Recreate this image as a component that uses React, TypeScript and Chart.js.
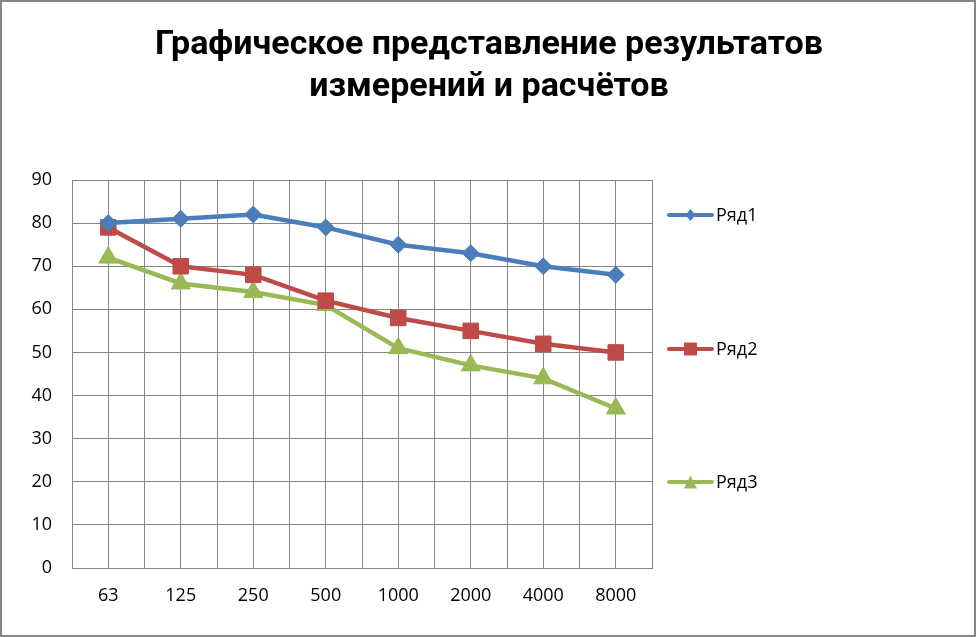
import React, { useEffect, useRef } from 'react';
import { Chart, registerables } from 'chart.js';

Chart.register(...registerables);

const categories = ['63', '125', '250', '500', '1000', '2000', '4000', '8000'];
const seriesNames = ['Ряд1', 'Ряд2', 'Ряд3'];
const series1 = [80, 81, 82, 79, 75, 73, 70, 68];
const series2 = [79, 70, 68, 62, 58, 55, 52, 50];
const series3 = [72, 66, 64, 61, 51, 47, 44, 37];
const titleLines = ['Графическое представление результатов', 'измерений и расчётов'];
const yMin = 0;
const yMax = 90;
const yStep = 10;

const colors = ['#4A7EBB', '#BE4B48', '#98B954'];
const pointStyles = ['rectRot', 'rect', 'triangle'];
const pointRadii = [8.5, 11, 11];
const GRID = '#868686';
const FONT = '"Open Sans", "Noto Sans", sans-serif';
const TITLE_FONT = 'bold 34px Roboto, "Open Sans", sans-serif';

const legendYs = [213, 347, 480];
const titleYs = [43, 85];

function drawMarker(ctx: CanvasRenderingContext2D, style: string, x: number, y: number, s: number) {
  ctx.beginPath();
  if (style === 'rectRot') {
    ctx.moveTo(x, y - s * 1.2);
    ctx.lineTo(x + s, y);
    ctx.lineTo(x, y + s * 1.2);
    ctx.lineTo(x - s, y);
  } else if (style === 'rect') {
    ctx.rect(x - s, y - s, 2 * s, 2 * s);
  } else {
    ctx.moveTo(x, y - s);
    ctx.lineTo(x + s, y + s);
    ctx.lineTo(x - s, y + s);
  }
  ctx.closePath();
  ctx.fill();
}

const titleLegendPlugin = {
  id: 'excelTitleLegend',
  afterDraw(chart: any) {
    const ctx: CanvasRenderingContext2D = chart.ctx;
    ctx.save();
    // title
    ctx.fillStyle = '#000';
    ctx.font = TITLE_FONT;
    ctx.textAlign = 'center';
    ctx.textBaseline = 'middle';
    titleLines.forEach((line, i) => {
      ctx.fillText(line, chart.width / 2 + 1, titleYs[i]);
    });
    // legend
    const x0 = chart.chartArea.right + 17;
    chart.data.datasets.forEach((ds: any, i: number) => {
      const y = legendYs[i];
      ctx.strokeStyle = colors[i];
      ctx.fillStyle = colors[i];
      ctx.lineWidth = 4;
      ctx.lineCap = 'round';
      ctx.beginPath();
      ctx.moveTo(x0, y);
      ctx.lineTo(x0 + 43, y);
      ctx.stroke();
      drawMarker(ctx, pointStyles[i], x0 + 21.5, y, i === 0 ? 5 : 6.5);
      ctx.fillStyle = '#000';
      ctx.font = '18px ' + FONT;
      ctx.textBaseline = 'middle';
      ctx.textAlign = 'left';
      ctx.fillText(ds.label, x0 + 47, y + 1);
    });
    ctx.restore();
  },
};

export default function App() {
  const ref = useRef<HTMLCanvasElement | null>(null);

  useEffect(() => {
    if (!ref.current) return;
    const allData = [series1, series2, series3];
    const chart = new Chart(ref.current, {
      type: 'line',
      data: {
        datasets: allData.map((vals, i) => ({
          label: seriesNames[i],
          data: vals.map((v, k) => ({ x: k, y: v })),
          borderColor: colors[i],
          backgroundColor: colors[i],
          borderWidth: 4.5,
          tension: 0,
          pointStyle: pointStyles[i] as any,
          pointRadius: pointRadii[i],
          pointBorderWidth: 1,
          pointBorderColor: colors[i],
          pointBackgroundColor: colors[i],
          fill: false,
        })),
      },
      options: {
        responsive: false,
        animation: false,
        devicePixelRatio: 1,
        layout: { padding: { left: 0, top: 178, right: 322, bottom: 0 } },
        plugins: {
          legend: { display: false },
          tooltip: { enabled: false },
          title: { display: false },
        },
        scales: {
          x: {
            type: 'linear',
            min: -0.5,
            max: categories.length - 0.5,
            afterFit: (scale: any) => {
              scale.height = 67;
            },
            afterBuildTicks: (scale: any) => {
              const t: any[] = [];
              for (let k = 0; k <= categories.length * 2; k++) t.push({ value: -0.5 + k * 0.5 });
              scale.ticks = t;
            },
            ticks: {
              autoSkip: false,
              maxRotation: 0,
              minRotation: 0,
              padding: 17,
              color: '#000',
              font: { family: FONT, size: 18 },
              callback: (v: any) => (Number.isInteger(v) ? categories[v] : ''),
            },
            grid: { color: GRID, lineWidth: 1, drawTicks: false },
            border: { color: GRID, width: 1 },
          },
          y: {
            min: yMin,
            max: yMax,
            afterFit: (scale: any) => {
              scale.width = 70;
            },
            ticks: {
              stepSize: yStep,
              padding: 20,
              color: '#000',
              font: { family: FONT, size: 18 },
            },
            grid: { color: GRID, lineWidth: 1, drawTicks: false },
            border: { color: GRID, width: 1 },
          },
        },
      },
      plugins: [titleLegendPlugin],
    } as any);
    return () => chart.destroy();
  }, []);

  return (
    <div
      style={{
        position: 'absolute',
        left: 0,
        top: 0,
        width: 976,
        height: 637,
        boxSizing: 'border-box',
        border: '2px solid #868686',
        background: '#fff',
      }}
    >
      <canvas ref={ref} width={972} height={633} style={{ display: 'block', width: 972, height: 633 }} />
    </div>
  );
}
